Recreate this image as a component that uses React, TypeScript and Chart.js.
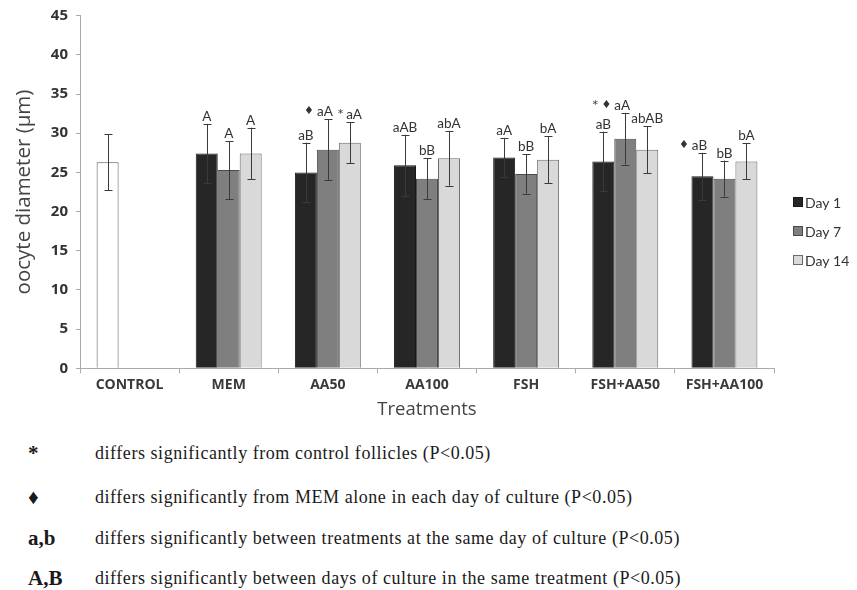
import React, { useEffect, useRef } from "react";
import { Chart, registerables } from "chart.js";

Chart.register(...registerables);

const categories = ["CONTROL", "MEM", "AA50", "AA100", "FSH", "FSH+AA50", "FSH+AA100"];
const seriesNames = ["Day 1", "Day 7", "Day 14"];

const day1 = [26.3, 27.4, 25.0, 25.9, 26.9, 26.4, 24.5];
const day1Err = [3.6, 3.8, 3.8, 3.9, 2.5, 3.8, 3.0];
const day7 = [null, 25.3, 27.9, 24.2, 24.8, 29.3, 24.2];
const day7Err = [null, 3.7, 3.9, 2.6, 2.5, 3.3, 2.3];
const day14 = [null, 27.4, 28.8, 26.8, 26.6, 27.9, 26.4];
const day14Err = [null, 3.3, 2.6, 3.5, 3.0, 3.0, 2.3];

const day1Labels = ["", "A", "aB", "aAB", "aA", "aB", "♦aB"];
const day7Labels = ["", "A", "♦aA", "bB", "bB", "*♦aA", "bB"];
const day14Labels = ["", "A", "*aA", "abA", "bA", "abAB", "bA"];

const yTicks = [0, 5, 10, 15, 20, 25, 30, 35, 40, 45];

const footnotes = [
  { sym: "*", text: "differs significantly from control follicles (P<0.05)" },
  { sym: "♦", text: "differs significantly from MEM alone in each day of culture (P<0.05)" },
  { sym: "a,b", text: "differs significantly between treatments at the same day of culture (P<0.05)" },
  { sym: "A,B", text: "differs significantly between days of culture in the same treatment (P<0.05)" },
];

const fillColors = ["#262626", "#7f7f7f", "#d9d9d9"];
const borderColors = ["#1a1a1a", "#4a4a4a", "#6a6a6a"];

const errors = [day1Err, day7Err, day14Err];
const annots = [day1Labels, day7Labels, day14Labels];

const errorBarPlugin = {
  id: "errorBars",
  afterDatasetsDraw(chart: any) {
    const ctx = chart.ctx;
    const y = chart.scales.y;
    ctx.save();
    chart.data.datasets.forEach((ds: any, i: number) => {
      const meta = chart.getDatasetMeta(i);
      meta.data.forEach((el: any, j: number) => {
        const v = ds.data[j];
        const e = errors[i][j];
        if (v == null || e == null) return;
        const x = Math.round(el.x) + 0.5;
        const yt = y.getPixelForValue(v + e);
        const yb = y.getPixelForValue(v - e);
        ctx.strokeStyle = "#3a3a3a";
        ctx.lineWidth = 1;
        ctx.beginPath();
        ctx.moveTo(x, yt);
        ctx.lineTo(x, yb);
        ctx.moveTo(x - 4, Math.round(yt) + 0.5);
        ctx.lineTo(x + 4, Math.round(yt) + 0.5);
        ctx.moveTo(x - 4, Math.round(yb) + 0.5);
        ctx.lineTo(x + 4, Math.round(yb) + 0.5);
        ctx.stroke();
        const lab = annots[i][j];
        if (lab) {
          const m = lab.match(/^([*♦]*)(.*)$/);
          const pre = m ? m[1] : "";
          const main = m ? m[2] : lab;
          ctx.textBaseline = "alphabetic";
          ctx.fillStyle = "#333";
          ctx.font = "11px DejaVu Sans";
          const preText = pre.split("").join(" ");
          const pw = pre ? ctx.measureText(preText).width : 0;
          ctx.font = "13.5px Lato";
          const mw = ctx.measureText(main).width;
          const gap = pre ? 3 : 0;
          let mainLeft: number;
          if (pre.includes("♦")) {
            mainLeft = el.x - mw / 2 - 3;
          } else {
            mainLeft = el.x - (pw + gap + mw) / 2 + pw + gap;
          }
          ctx.textAlign = "left";
          ctx.fillText(main, mainLeft, yt - 3);
          if (pre) {
            ctx.textAlign = "right";
            ctx.font = "11px DejaVu Sans";
            ctx.fillText(preText, mainLeft - gap, yt - 5);
          }
        }
      });
    });
    ctx.restore();
  },
};

const legendPlugin = {
  id: "customLegend",
  afterDraw(chart: any) {
    const ctx = chart.ctx;
    ctx.save();
    const x0 = chart.chartArea.right + 19;
    const y0 = 194;
    const gap = 29;
    seriesNames.forEach((name, i) => {
      const yc = y0 + i * gap;
      ctx.fillStyle = fillColors[i];
      ctx.fillRect(x0 + 0.5, yc - 4.5, 9, 9);
      ctx.strokeStyle = borderColors[i];
      ctx.lineWidth = 1;
      ctx.strokeRect(x0 + 0.5, yc - 4.5, 9, 9);
      ctx.fillStyle = "#333";
      ctx.font = "14px Lato";
      ctx.textAlign = "left";
      ctx.textBaseline = "middle";
      ctx.fillText(name, x0 + 12, yc + 1);
    });
    ctx.restore();
  },
};

export default function App() {
  const ref = useRef<HTMLCanvasElement | null>(null);
  useEffect(() => {
    if (!ref.current) return;
    const bg = (i: number) => (ctx: any) =>
      i === 0 && ctx.dataIndex === 0 ? "#ffffff" : fillColors[i];
    const bc = (i: number) => (ctx: any) =>
      i === 0 && ctx.dataIndex === 0 ? "#555555" : borderColors[i];
    const chart = new Chart(ref.current, {
      type: "bar",
      data: {
        labels: categories,
        datasets: [day1, day7, day14].map((d, i) => ({
          label: seriesNames[i],
          data: d as any,
          backgroundColor: bg(i) as any,
          borderColor: bc(i) as any,
          borderWidth: 1,
          categoryPercentage: 0.665,
          barPercentage: 1,
        })),
      },
      options: {
        animation: false,
        responsive: false,
        maintainAspectRatio: false,
        layout: { padding: { top: 7.7, right: 75, left: 0, bottom: 0 } },
        plugins: {
          legend: { display: false },
          tooltip: { enabled: false },
        },
        scales: {
          x: {
            type: "category",
            grid: {
              display: true,
              drawOnChartArea: false,
              drawTicks: true,
              tickLength: 5,
              offset: true,
              color: "#aaaaaa",
            },
            border: { display: true, color: "#aaaaaa" },
            ticks: {
              color: "#3a3a3a",
              font: { family: "Open Sans", weight: "bold", size: 14 },
              padding: 3,
              maxRotation: 0,
              autoSkip: false,
            },
            title: {
              display: true,
              text: "Treatments",
              color: "#444",
              font: { family: "Open Sans", size: 18.5 },
              padding: { top: 0, bottom: 0 },
            },
            afterFit: (s: any) => {
              s.height = 52.7;
            },
          },
          y: {
            min: 0,
            max: 45,
            afterBuildTicks: (s: any) => {
              s.ticks = yTicks.map((v) => ({ value: v }));
            },
            grid: {
              display: true,
              drawOnChartArea: false,
              drawTicks: true,
              tickLength: 4,
              color: "#aaaaaa",
            },
            border: { display: true, color: "#aaaaaa" },
            ticks: {
              color: "#333",
              font: { family: "Open Sans", weight: "bold", size: 15 },
              padding: 8,
            },
            title: {
              display: true,
              text: "oocyte diameter (µm)",
              color: "#444",
              font: { family: "Open Sans", size: 20.5 },
              padding: { top: 4, bottom: 0 },
            },
            afterFit: (s: any) => {
              s.width = 72;
              s.paddingTop = 0;
              s.paddingBottom = 0;
            },
          },
        },
      },
      plugins: [errorBarPlugin, legendPlugin],
    });
    return () => chart.destroy();
  }, []);

  return (
    <div style={{ position: "relative", width: 841, height: 582, background: "#fff" }}>
      <canvas ref={ref} width={841} height={413} style={{ display: "block", width: 841, height: 413 }} />
      {footnotes.map((f, i) => {
        const tops = [445, 489, 530, 570];
        return (
          <div key={i} style={{ position: "absolute", left: 0, top: tops[i] - 12, width: 841, height: 24 }}>
            <span
              style={{
                position: "absolute",
                left: 20,
                top: 0,
                lineHeight: "24px",
                fontFamily: "Liberation Serif",
                fontWeight: "bold",
                fontSize: 21,
                color: "#1a1a1a",
              }}
            >
              {f.sym}
            </span>
            <span
              style={{
                position: "absolute",
                left: 87,
                top: 0,
                lineHeight: "24px",
                fontFamily: "Liberation Serif",
                fontSize: 18,
                letterSpacing: "0.55px",
                color: "#1a1a1a",
                whiteSpace: "nowrap",
              }}
            >
              {f.text}
            </span>
          </div>
        );
      })}
    </div>
  );
}
